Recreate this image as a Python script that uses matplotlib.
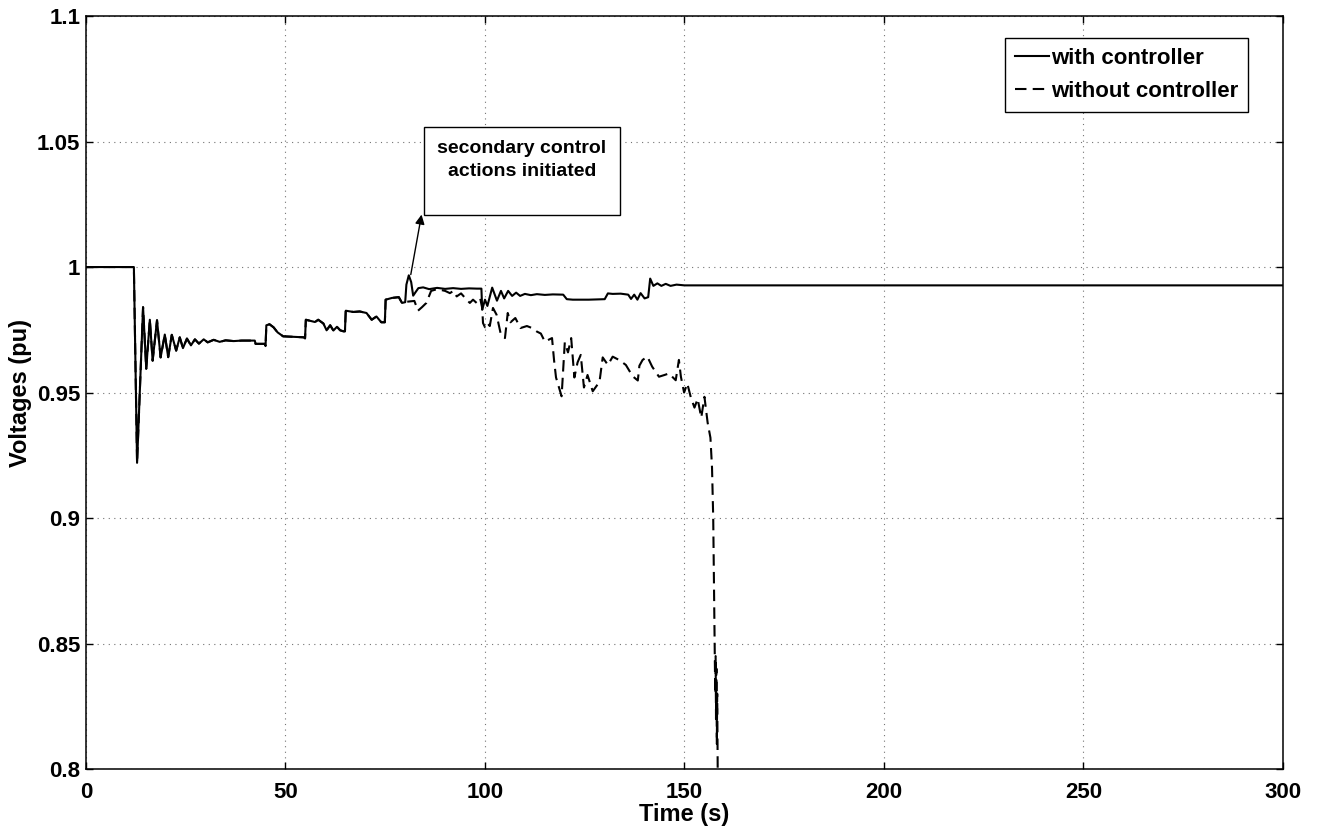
import matplotlib
matplotlib.use("Agg")
import matplotlib.pyplot as plt
from matplotlib.patches import Rectangle

plt.rcParams['font.family'] = ['Liberation Sans', 'DejaVu Sans']
plt.rcParams['font.weight'] = 'bold'

# common part of both runs (0 - 80 s)
t_shared = [0, 12.0, 12.8, 14.3, 15.1, 16.0, 16.7, 17.8, 18.7, 19.75, 20.6, 21.5, 22.6,
            23.5, 24.3, 25.3, 26.3, 27.3, 28.3, 29.5, 30.5, 32, 33.5, 35, 37, 39, 42.3,
            42.5, 44.8, 45.0, 45.2, 46.0, 47.0, 48.0, 49.4, 52.0, 54.6, 54.9, 55.1,
            57.4, 58.2, 59.5, 60.3, 61.2, 62.0, 62.9, 63.7, 64.5, 64.9, 65.1,
            67.0, 68.6, 70.3, 71.6, 72.8, 74.0, 74.9, 75.1, 76.7, 78.4, 79.2, 80.0]
v_shared = [1.0, 1.0, 0.922, 0.984, 0.9595, 0.979, 0.9627, 0.9788, 0.964, 0.9731, 0.9641, 0.973, 0.9667,
            0.972, 0.9677, 0.9715, 0.9688, 0.9712, 0.9695, 0.9712, 0.9700, 0.9710, 0.9702, 0.9708, 0.9705, 0.9707, 0.9707,
            0.9694, 0.9694, 0.9685, 0.9768, 0.9772, 0.9760, 0.9740, 0.9724, 0.9722, 0.9720, 0.9716, 0.979,
            0.9781, 0.979, 0.9775, 0.9748, 0.9768, 0.9747, 0.9762, 0.9748, 0.9744, 0.9744, 0.9826,
            0.9821, 0.9823, 0.9817, 0.979, 0.9803, 0.978, 0.978, 0.987, 0.9877, 0.988, 0.9857, 0.986]

# with controller after 80 s
t_with_tail = [80.3, 80.9, 81.5, 82.0, 82.6, 83.3, 84.5, 86, 88, 90, 92, 94, 96, 98, 99.1,
               99.3, 100.0, 100.6, 101.8, 103.0, 104.0, 104.8, 105.8, 106.8, 107.8, 108.8,
               110, 111.5, 113, 115, 117, 119.6, 120.5, 122, 126, 130, 130.8, 132, 134,
               135.9, 136.6, 137.4, 138.2, 139, 140, 140.9, 141.4, 142.2, 143.2, 144.2,
               145.3, 146.5, 148, 150, 300]
v_with_tail = [0.993, 0.9967, 0.994, 0.9886, 0.990, 0.9916, 0.9919, 0.9912, 0.9917, 0.9913, 0.9916, 0.9913, 0.9915, 0.9914, 0.9914,
               0.983, 0.987, 0.9845, 0.9918, 0.9866, 0.9905, 0.9875, 0.9905, 0.9885, 0.9898, 0.9885,
               0.9893, 0.9888, 0.9892, 0.9889, 0.9891, 0.9890, 0.9872, 0.9870, 0.9870, 0.9872, 0.9895, 0.9893, 0.9894,
               0.9890, 0.9873, 0.9890, 0.9870, 0.9896, 0.9875, 0.9880, 0.9954, 0.9925, 0.9935, 0.9925,
               0.9933, 0.9925, 0.9930, 0.9927, 0.9927]

# without controller after 80 s
t_without_tail = [80.5, 82.3, 83.2, 84.2, 85.3, 86.5, 88, 90, 91.2, 92.1, 92.9, 94, 95.4, 96.2, 97.0,
                  97.9, 98.8, 99.3, 99.5, 100, 100.6, 101.2, 102, 102.9, 103.9, 105, 105.7, 106.4,
                  107.6, 108.9, 110.5, 111.8, 113, 114, 115, 116.8, 117.3, 117.8, 119.2, 120,
                  120.8, 121.6, 122.4, 123.2, 124, 124.8, 125.7, 127, 128.7, 129.5, 130.8, 132,
                  133.7, 135.3, 137, 138.3, 138.7, 139.5, 140.7, 141.9, 143.6, 145, 146.1, 147.8,
                  148.6, 149.1, 149.9, 150.7, 151.6, 152.5, 153.3, 154.2, 155, 155.8, 156.5, 156.9,
                  157.2, 157.5, 157.6, 157.7, 157.8, 157.9, 158.0, 158.1, 158.2, 158.4]
v_without_tail = [0.9862, 0.9865, 0.9826, 0.984, 0.9857, 0.9905, 0.9912, 0.9905, 0.9896, 0.9905, 0.9883, 0.9895, 0.987, 0.9857, 0.987,
                  0.9857, 0.9875, 0.9837, 0.9777, 0.976, 0.9777, 0.9765, 0.9837, 0.981, 0.9737, 0.9717, 0.9817, 0.978,
                  0.9797, 0.9757, 0.9765, 0.9757, 0.9743, 0.9735, 0.9703, 0.9717, 0.963, 0.956, 0.9485, 0.970,
                  0.966, 0.9717, 0.956, 0.962, 0.965, 0.952, 0.957, 0.9505, 0.9543, 0.964, 0.961, 0.9643,
                  0.9629, 0.961, 0.9565, 0.9548, 0.9607, 0.963, 0.9643, 0.9603, 0.9563, 0.957, 0.9576, 0.9549,
                  0.963, 0.9563, 0.950, 0.9536, 0.948, 0.944, 0.9475, 0.940, 0.9483, 0.938, 0.932, 0.92,
                  0.90, 0.86, 0.85, 0.83, 0.845, 0.82, 0.84, 0.81, 0.83, 0.78]

t_with = t_shared + t_with_tail
v_with = v_shared + v_with_tail
t_without = t_shared + t_without_tail
v_without = v_shared + v_without_tail

x_ticks = [0, 50, 100, 150, 200, 250, 300]
y_ticks = [0.8, 0.85, 0.9, 0.95, 1.0, 1.05, 1.1]
y_tick_labels = ['0.8', '0.85', '0.9', '0.95', '1', '1.05', '1.1']

fig = plt.figure(figsize=(13.19, 8.36), dpi=100)
ax = fig.add_axes([0.0652, 0.0801, 0.9075, 0.9007])

ax.plot(t_without, v_without, color='black', lw=1.5, linestyle=(0, (5.5, 3)), label='without controller')
ax.plot(t_with, v_with, color='black', lw=1.5, label='with controller')

ax.set_xlim(0, 300)
ax.set_ylim(0.8, 1.1)
ax.set_xticks(x_ticks)
ax.set_yticks(y_ticks)
ax.set_yticklabels(y_tick_labels)
ax.tick_params(direction='in', top=True, right=True, length=5, width=1,
               labelsize=16, pad=4)
ax.tick_params(axis='x', pad=9)
for s in ax.spines.values():
    s.set_linewidth(1.1)
ax.grid(True, linestyle=(0, (1, 4)), color='0.45', linewidth=0.8)

ax.set_xlabel('Time (s)', fontsize=17, fontweight='bold', labelpad=0)
ax.set_ylabel('Voltages (pu)', fontsize=17, fontweight='bold', labelpad=4)

handles, labels = ax.get_legend_handles_labels()
leg = ax.legend(handles[::-1], labels[::-1], loc='upper right', bbox_to_anchor=(0.971, 0.971),
                borderaxespad=0, fontsize=16, handlelength=1.5, handletextpad=0.1,
                fancybox=False, edgecolor='black', framealpha=1, labelspacing=0.55,
                borderpad=0.45)
leg.get_frame().set_linewidth(1.0)

# annotation box and arrow
ax.add_patch(Rectangle((84.7, 1.0209), 49.1, 0.0348, facecolor='white', edgecolor='black',
                       linewidth=1.0, zorder=4))
ax.text(109.2, 1.0425, 'secondary control\nactions initiated', fontsize=14, fontweight='bold',
        ha='center', va='center', linespacing=1.45, zorder=5)
ax.annotate('', xy=(84.1, 1.0209), xytext=(81.4, 0.997),
            arrowprops=dict(arrowstyle='-|>', color='black', lw=1.0, mutation_scale=14,
                            shrinkA=0, shrinkB=0))

fig.savefig('out.png', dpi=100)
